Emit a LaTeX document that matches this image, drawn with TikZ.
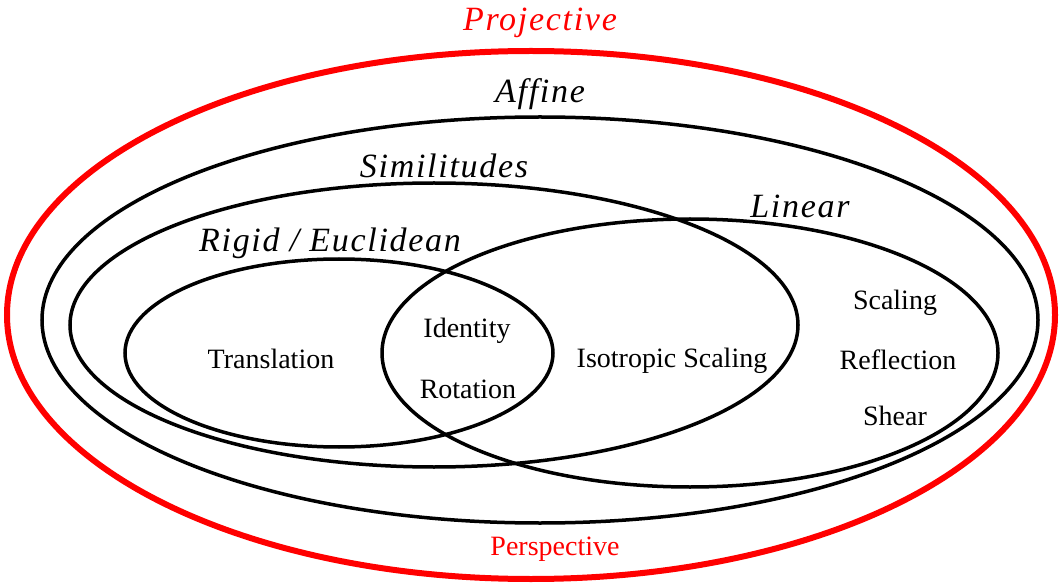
\documentclass[tikz,border=0pt]{standalone}
\usepackage{fontspec}
\setmainfont{Liberation Serif}
\newfontfamily\spacedfont[LetterSpace=5]{Liberation Serif}
\begin{document}
\begin{tikzpicture}[x=1pt,y=-1pt,
  setline/.style={line width=3.5pt, draw=black},
  projline/.style={line width=6pt, draw=red},
  title/.style={inner sep=0pt, font=\fontsize{34}{34}\selectfont\spacedfont\itshape},
  item/.style={inner sep=0pt, font=\fontsize{28}{28}\selectfont}]
\useasboundingbox (0,0) rectangle (1061,588);
% sets
\draw[projline] (531,315) ellipse [x radius=524, y radius=264];
\draw[setline] (540,320) ellipse [x radius=498, y radius=203];
\draw[setline] (434,325) ellipse [x radius=364, y radius=142];
\draw[setline] (339,353) ellipse [x radius=214, y radius=94];
\draw[setline] (690,353) ellipse [x radius=308, y radius=134];
% titles
\node[title, text=red] (proj) at (540,23) {Projective};
\node[title] (aff) at (540,94) {Affine};
\node[title] (sim) at (444,166) {Similitudes};
\node[title] (lin) at (800,206) {Linear};
\node[title] (rig) at (330,243) {Rigid / Euclidean};
% items
\node[item] (tr) at (271,359) {Translation};
\node[item] (id) at (467,331) {Identity};
\node[item] (ro) at (468,389) {Rotation};
\node[item] (is) at (672,361) {Isotropic Scaling};
\node[item] (sc) at (895,303) {Scaling};
\node[item] (re) at (898,360) {Reflection};
\node[item] (sh) at (895,416) {Shear};
\node[item, text=red] (pe) at (555,549) {Perspective};
\end{tikzpicture}
\end{document}
